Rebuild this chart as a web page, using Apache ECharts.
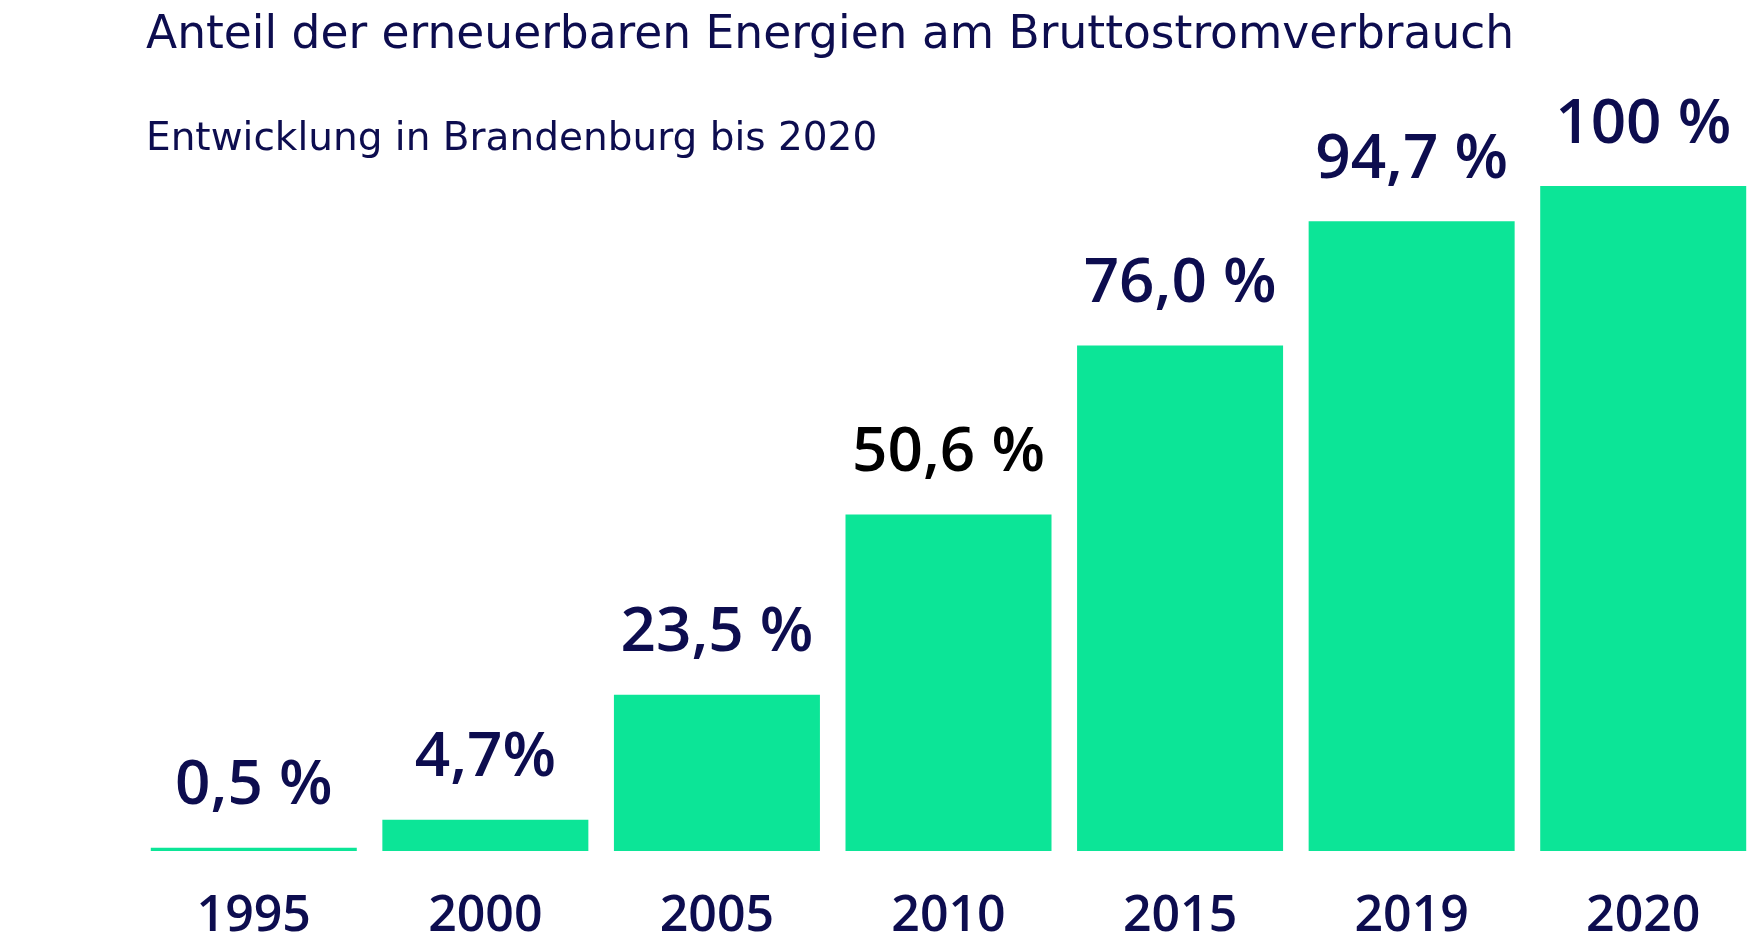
<!DOCTYPE html>
<html>
<head>
<meta charset="utf-8">
<script src="https://cdn.jsdelivr.net/npm/echarts@6/dist/echarts.min.js"></script>
<style>
html,body{margin:0;padding:0;background:#fff;}
#chart{width:1749px;height:945px;}
</style>
</head>
<body>
<div id="chart"></div>
<script>
const titleText = 'Anteil der erneuerbaren Energien am Bruttostromverbrauch';
const subtitleText = 'Entwicklung in Brandenburg bis 2020';
const years = ['1995', '2000', '2005', '2010', '2015', '2019', '2020'];
const shares = [0.5, 4.7, 23.5, 50.6, 76.0, 94.7, 100];
const valueLabels = ['0,5 %', '4,7%', '23,5 %', '50,6 %', '76,0 %', '94,7 %', '100 %'];
const labelColors = ['#0d0d4f', '#0d0d4f', '#0d0d4f', '#000000', '#0d0d4f', '#0d0d4f', '#0d0d4f'];

const navy = '#0d0d4f';
const green = '#0ce597';
const font = '"Open Sans", "Noto Sans", sans-serif';

const chart = echarts.init(document.getElementById('chart'));
chart.setOption({
  animation: false,
  backgroundColor: '#ffffff',
  title: [
    { text: titleText, left: 141, top: 8,
      textStyle: { fontFamily: '"DejaVu Sans", sans-serif', fontSize: 45.5, fontWeight: 'normal', color: navy } },
    { text: subtitleText, left: 141, top: 115,
      textStyle: { fontFamily: '"DejaVu Sans", sans-serif', fontSize: 39, fontWeight: 'normal', color: navy } }
  ],
  grid: { left: 138, width: 1621, top: 186, bottom: 94, containLabel: false, outerBoundsMode: 'none' },
  xAxis: {
    type: 'category',
    data: years,
    axisLine: { show: false },
    axisTick: { show: false },
    axisLabel: { margin: 41, fontFamily: font, fontSize: 50, fontWeight: 600, color: navy }
  },
  yAxis: { type: 'value', min: 0, max: 100, show: false, splitLine: { show: false } },
  series: [{
    type: 'bar',
    data: shares.map((v, i) => ({
      value: v,
      label: { color: labelColors[i] }
    })),
    barWidth: 206,
    itemStyle: { color: green },
    label: {
      show: true,
      position: 'top',
      distance: 30,
      fontFamily: font,
      fontSize: 62,
      fontWeight: 600,
      formatter: p => valueLabels[p.dataIndex]
    }
  }]
});
</script>
</body>
</html>
